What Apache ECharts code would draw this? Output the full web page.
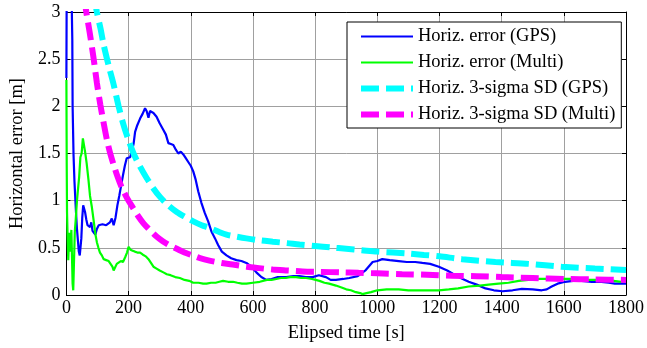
<!DOCTYPE html>
<html>
<head>
<meta charset="utf-8">
<script src="https://cdn.jsdelivr.net/npm/echarts@6/dist/echarts.min.js"></script>
<style>
  html, body { margin: 0; padding: 0; background: #fff; }
  #chart { width: 647px; height: 348px; }
</style>
</head>
<body>
<div id="chart"></div>
<script>
// Horizontal position error over elapsed time, GPS-only vs multi-sensor solution
const seriesNames = [
  'Horiz. error (GPS)',
  'Horiz. error (Multi)',
  'Horiz. 3-sigma SD (GPS)',
  'Horiz. 3-sigma SD (Multi)'
];

const xTicks = { min: 0, max: 1800, step: 200 };
const yTicks = { min: 0, max: 3, step: 0.5 };

// [elapsed time s, horizontal error m]
const errGps = [
  [0, 2.3], [1, 3.3], [3, 3.4], [6, 3.2], [9, 3.3], [12, 3.1], [15, 3.3], [17, 3.1],
  [19, 2.7], [20, 2.0], [23, 1.48], [26, 1.2], [29, 1.0], [31, 0.87], [34, 0.7],
  [37, 0.58], [40, 0.46], [43, 0.42], [45, 0.44], [48, 0.6], [51, 0.82], [54, 0.95],
  [57, 0.97], [60, 0.88], [64, 0.8], [68, 0.74], [72, 0.76], [76, 0.72], [80, 0.77],
  [84, 0.68], [88, 0.66], [93, 0.64], [98, 0.7], [104, 0.74], [110, 0.75], [116, 0.75],
  [122, 0.76], [128, 0.74], [134, 0.76], [140, 0.77], [146, 0.81], [152, 0.74],
  [158, 0.82], [164, 0.95], [170, 1.05], [176, 1.16], [182, 1.27], [188, 1.37],
  [194, 1.45], [200, 1.47], [205, 1.46], [210, 1.52], [216, 1.6], [221, 1.73],
  [228, 1.8], [237, 1.87], [245, 1.92], [253, 1.98], [258, 1.95], [264, 1.88],
  [269, 1.95], [274, 1.97], [280, 1.93], [290, 1.89], [300, 1.82], [312, 1.75],
  [320, 1.7], [328, 1.61], [336, 1.6], [344, 1.59], [352, 1.54], [360, 1.5],
  [368, 1.52], [376, 1.49], [384, 1.45], [392, 1.41], [400, 1.37], [408, 1.31],
  [416, 1.22], [424, 1.1], [434, 0.98], [445, 0.87], [456, 0.78], [467, 0.67],
  [478, 0.6], [488, 0.53], [500, 0.46], [515, 0.42], [530, 0.39], [547, 0.37],
  [563, 0.36], [579, 0.34], [595, 0.3], [611, 0.24], [627, 0.19], [643, 0.16],
  [660, 0.17], [680, 0.19], [707, 0.19], [730, 0.2], [750, 0.2], [770, 0.19],
  [792, 0.19], [812, 0.21], [835, 0.19], [850, 0.16], [867, 0.16], [890, 0.17],
  [910, 0.18], [937, 0.2], [963, 0.265], [985, 0.35], [1000, 0.36], [1016, 0.38],
  [1040, 0.37], [1069, 0.36], [1095, 0.35], [1122, 0.35], [1145, 0.34], [1170, 0.33],
  [1198, 0.3], [1225, 0.26], [1251, 0.21], [1275, 0.17], [1294, 0.14], [1320, 0.11],
  [1348, 0.07], [1375, 0.05], [1403, 0.04], [1435, 0.05], [1465, 0.064], [1500, 0.06],
  [1529, 0.05], [1545, 0.06], [1561, 0.09], [1580, 0.12], [1604, 0.14], [1630, 0.15],
  [1657, 0.15], [1690, 0.14], [1721, 0.14], [1745, 0.13], [1764, 0.12], [1785, 0.12],
  [1800, 0.12]
];

const errMulti = [
  [0, 2.28], [1, 1.4], [2, 0.88], [4, 0.6], [6, 0.37], [8, 0.55], [10, 0.66],
  [13, 0.46], [16, 0.69], [18, 0.4], [20, 0.12], [22, 0.05], [24, 0.3], [27, 0.67],
  [30, 0.8], [34, 1.0], [37, 1.11], [41, 1.25], [45, 1.46], [49, 1.5], [53, 1.66],
  [56, 1.6], [60, 1.52], [65, 1.4], [71, 1.22], [76, 1.05], [82, 0.93], [88, 0.78],
  [93, 0.65], [98, 0.56], [103, 0.5], [108, 0.45], [114, 0.42], [120, 0.38],
  [128, 0.37], [136, 0.36], [142, 0.34], [148, 0.3], [152, 0.26], [156, 0.27],
  [162, 0.33], [168, 0.35], [175, 0.36], [182, 0.35], [189, 0.4], [195, 0.45],
  [200, 0.51], [206, 0.48], [213, 0.47], [220, 0.46], [228, 0.45], [237, 0.45],
  [245, 0.43], [255, 0.41], [264, 0.38], [272, 0.34], [280, 0.3], [290, 0.28],
  [300, 0.26], [312, 0.24], [323, 0.22], [335, 0.21], [350, 0.19], [365, 0.18],
  [380, 0.16], [395, 0.15], [408, 0.13], [425, 0.13], [440, 0.12], [451, 0.12],
  [465, 0.13], [480, 0.13], [492, 0.14], [504, 0.15], [520, 0.14], [536, 0.14],
  [550, 0.13], [565, 0.12], [579, 0.12], [600, 0.13], [622, 0.14], [645, 0.16],
  [660, 0.16], [675, 0.17], [690, 0.18], [705, 0.18], [720, 0.19], [739, 0.19],
  [755, 0.18], [771, 0.18], [790, 0.17], [802, 0.16], [814, 0.15], [830, 0.13],
  [845, 0.12], [856, 0.11], [867, 0.1], [885, 0.08], [900, 0.06], [915, 0.05],
  [931, 0.03], [945, 0.02], [952, 0.01], [965, 0.02], [980, 0.03], [1000, 0.05],
  [1030, 0.06], [1069, 0.06], [1100, 0.05], [1144, 0.05], [1170, 0.05], [1198, 0.05],
  [1230, 0.06], [1260, 0.07], [1294, 0.09], [1330, 0.1], [1358, 0.11], [1390, 0.12],
  [1422, 0.13], [1455, 0.15], [1486, 0.16], [1520, 0.17], [1550, 0.17], [1580, 0.17],
  [1614, 0.17], [1640, 0.17], [1668, 0.16], [1700, 0.16], [1732, 0.16], [1760, 0.15],
  [1785, 0.14], [1800, 0.14]
];

// [elapsed time s, 3-sigma standard deviation m]
const sdGps = [
  [90, 3.15], [98, 3.0], [110, 2.82], [120, 2.65], [136, 2.43], [152, 2.23],
  [168, 2.0], [184, 1.8], [200, 1.64], [216, 1.5], [237, 1.36], [258, 1.24],
  [280, 1.13], [301, 1.04], [328, 0.95], [355, 0.88], [380, 0.83], [408, 0.78],
  [435, 0.74], [461, 0.71], [490, 0.67], [515, 0.64], [545, 0.62], [579, 0.6],
  [620, 0.58], [664, 0.565], [710, 0.55], [750, 0.535], [800, 0.52], [850, 0.505],
  [900, 0.49], [950, 0.475], [1000, 0.46], [1050, 0.45], [1100, 0.44], [1150, 0.425],
  [1200, 0.41], [1273, 0.38], [1380, 0.35], [1487, 0.33], [1593, 0.3], [1700, 0.28],
  [1800, 0.265]
];

const sdMulti = [
  [58, 3.15], [64, 3.0], [75, 2.78], [87, 2.52], [98, 2.25], [109, 2.02], [120, 1.82],
  [130, 1.65], [141, 1.5], [152, 1.38], [165, 1.25], [178, 1.14], [190, 1.06],
  [200, 1.0], [215, 0.92], [230, 0.84], [248, 0.76], [268, 0.69], [290, 0.62],
  [310, 0.57], [330, 0.53], [355, 0.49], [380, 0.45], [405, 0.42], [430, 0.39],
  [460, 0.365], [500, 0.34], [540, 0.32], [580, 0.3], [620, 0.285], [664, 0.27],
  [710, 0.26], [760, 0.25], [820, 0.245], [880, 0.24], [940, 0.235], [1000, 0.23],
  [1080, 0.22], [1160, 0.215], [1240, 0.205], [1320, 0.2], [1400, 0.19], [1500, 0.18],
  [1600, 0.17], [1700, 0.165], [1800, 0.16]
];

const FONT = 'Liberation Serif';
const gridLine = { show: true, lineStyle: { color: '#a0a0a0', width: 1, type: 'solid' } };
const blackLine = { show: true, onZero: false, lineStyle: { color: '#000', width: 1 } };
const innerTick = { show: true, inside: true, length: 4, lineStyle: { color: '#000', width: 1 } };
const plainNumber = (v) => String(v);

const chart = echarts.init(document.getElementById('chart'), null, { renderer: 'canvas' });

chart.setOption({
  animation: false,
  backgroundColor: '#fff',
  textStyle: { fontFamily: FONT, color: '#000' },
  grid: { left: 66, right: 16, top: 12, bottom: 52, containLabel: false },
  xAxis: [
    {
      type: 'value', position: 'bottom',
      min: xTicks.min, max: xTicks.max, interval: xTicks.step,
      axisLine: blackLine, axisTick: innerTick, splitLine: gridLine,
      axisLabel: { color: '#000', fontFamily: FONT, fontSize: 18, margin: 4, formatter: plainNumber },
      name: 'Elipsed time [s]', nameLocation: 'middle', nameGap: 29,
      nameTextStyle: { color: '#000', fontFamily: FONT, fontSize: 18.5 }
    },
    {
      type: 'value', position: 'top',
      min: xTicks.min, max: xTicks.max, interval: xTicks.step,
      axisLine: blackLine, axisTick: innerTick,
      axisLabel: { show: false }, splitLine: { show: false }
    }
  ],
  yAxis: [
    {
      type: 'value', position: 'left',
      min: yTicks.min, max: yTicks.max, interval: yTicks.step,
      axisLine: blackLine, axisTick: innerTick, splitLine: gridLine,
      axisLabel: { color: '#000', fontFamily: FONT, fontSize: 18, margin: 6, formatter: plainNumber },
      name: 'Horizontal error [m]', nameLocation: 'middle', nameGap: 37, nameRotate: 90,
      nameTextStyle: { color: '#000', fontFamily: FONT, fontSize: 18.5 }
    },
    {
      type: 'value', position: 'right',
      min: yTicks.min, max: yTicks.max, interval: yTicks.step,
      axisLine: blackLine, axisTick: innerTick,
      axisLabel: { show: false }, splitLine: { show: false }
    }
  ],
  legend: {
    orient: 'vertical',
    left: 347, top: 22,
    itemWidth: 52, itemHeight: 14, itemGap: 7,
    padding: [5, 6, 4, 11],
    backgroundColor: '#fff',
    borderColor: '#000', borderWidth: 1, borderRadius: 0,
    itemStyle: { opacity: 0 },
    lineStyle: { width: 'inherit', type: 'inherit' },
    textStyle: { color: '#000', fontFamily: FONT, fontSize: 18.5 },
    data: seriesNames
  },
  series: [
    {
      name: seriesNames[0], type: 'line', data: errGps, symbol: 'none',
      lineStyle: { color: '#0000ff', width: 2.2 }, itemStyle: { color: '#0000ff' }
    },
    {
      name: seriesNames[1], type: 'line', data: errMulti, symbol: 'none',
      lineStyle: { color: '#00ff00', width: 2.2 }, itemStyle: { color: '#00ff00' }
    },
    {
      name: seriesNames[2], type: 'line', data: sdGps, symbol: 'none', smooth: 0.3,
      lineStyle: { color: '#00ffff', width: 6, type: [18, 7], cap: 'butt' },
      itemStyle: { color: '#00ffff' }
    },
    {
      name: seriesNames[3], type: 'line', data: sdMulti, symbol: 'none', smooth: 0.3,
      lineStyle: { color: '#ff00ff', width: 6, type: [18, 7], cap: 'butt' },
      itemStyle: { color: '#ff00ff' }
    }
  ]
});
</script>
</body>
</html>
